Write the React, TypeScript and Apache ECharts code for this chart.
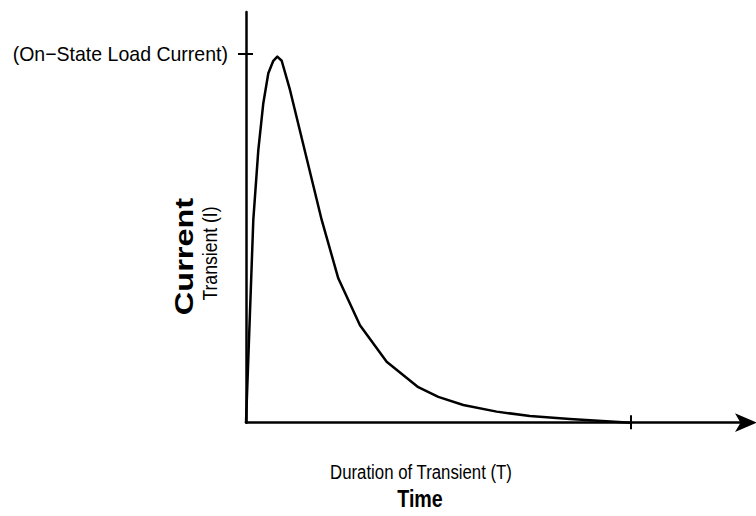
import React, { useEffect, useRef } from "react";
import * as echarts from "echarts";

// Transient current curve (time in arbitrary units, current in % of on-state load current)
const timeValues = [0, 1.9, 3.2, 4.5, 5.8, 7.1, 8.14, 9.28, 11.44, 19.68, 23.99, 29.63, 36.57, 44.79, 49.99, 56.49, 65.17, 73.82, 84.2, 100];
const currentValues = [0, 54.9, 73.8, 86.5, 94.6, 98.0, 99.1, 98.0, 90.1, 54.9, 39.1, 26.4, 16.5, 9.6, 7.0, 4.8, 3.0, 1.8, 1.0, 0];

const xTickValues = [100];
const yTickValues = [100];
const xMax = 130;
const yMax = 111.2;

const peakLabel = "(On\u2212State Load Current)";
const yTitleBold = "Current";
const yTitle = "Transient (I)";
const xTitle = "Duration of Transient (T)";
const xTitleBold = "Time";

const FONT = "'Liberation Sans', Arial, Helvetica, sans-serif";

function textEl(
  text: string,
  x: number,
  y: number,
  size: number,
  opts: { bold?: boolean; align?: string; rotation?: number; scaleX?: number } = {}
) {
  const align = opts.align || "center";
  return {
    type: "text",
    x,
    y,
    rotation: opts.rotation || 0,
    scaleX: opts.scaleX || 1,
    silent: true,
    style: {
      text,
      fontSize: size,
      fontFamily: FONT,
      fontWeight: opts.bold ? "bold" : "normal",
      fill: "#000",
      align,
      textAlign: align,
      verticalAlign: "middle",
      textVerticalAlign: "middle",
    },
  };
}

export default function App() {
  const ref = useRef<HTMLDivElement>(null);

  useEffect(() => {
    if (!ref.current) return;
    const chart = echarts.init(ref.current, undefined, { renderer: "svg" });
    const data = timeValues.map((t, i) => [t, currentValues[i]]);
    const axisLineStyle = { color: "#000", width: 2.5 };

    chart.setOption({
      animation: false,
      backgroundColor: "#fff",
      grid: { left: 246, right: 10, top: 12, bottom: 93.3, containLabel: false },
      xAxis: [
        {
          type: "value",
          min: 0,
          max: xMax,
          position: "bottom",
          axisLine: {
            show: true,
            onZero: false,
            lineStyle: axisLineStyle,
            symbol: ["none", "arrow"],
            symbolSize: [14, 22],
            symbolOffset: [0, 11],
          },
          axisTick: { show: true, customValues: xTickValues, inside: true, length: 7.5, lineStyle: { color: "#000", width: 2 } },
          axisLabel: { show: false },
          splitLine: { show: false },
        },
        {
          type: "value",
          min: 0,
          max: xMax,
          position: "bottom",
          axisLine: { show: false, onZero: false },
          axisTick: { show: true, customValues: xTickValues, inside: false, length: 6.5, lineStyle: { color: "#000", width: 2 } },
          axisLabel: { show: false },
          splitLine: { show: false },
        },
      ],
      yAxis: [
        {
          type: "value",
          min: 0,
          max: yMax,
          position: "left",
          axisLine: { show: true, onZero: false, lineStyle: axisLineStyle },
          axisTick: { show: true, customValues: yTickValues, inside: true, length: 7, lineStyle: { color: "#000", width: 2 } },
          axisLabel: { show: false },
          splitLine: { show: false },
        },
        {
          type: "value",
          min: 0,
          max: yMax,
          position: "left",
          axisLine: { show: false, onZero: false },
          axisTick: { show: true, customValues: yTickValues, inside: false, length: 8, lineStyle: { color: "#000", width: 2 } },
          axisLabel: { show: false },
          splitLine: { show: false },
        },
      ],
      series: [
        {
          type: "line",
          xAxisIndex: 0,
          yAxisIndex: 0,
          data,
          showSymbol: false,
          symbol: "none",
          smooth: false,
          lineStyle: { color: "#000", width: 2.5, join: "round" },
          silent: true,
        },
      ],
      graphic: [
        textEl(peakLabel, 228, 54, 21, { align: "right", scaleX: 0.93 }),
        textEl(yTitleBold, 184, 256.5, 26, { bold: true, rotation: Math.PI / 2, scaleX: 1.25 }),
        textEl(yTitle, 210, 253.5, 20, { rotation: Math.PI / 2, scaleX: 0.88 }),
        textEl(xTitle, 421, 471.5, 21, { scaleX: 0.8 }),
        textEl(xTitleBold, 420, 499, 24, { bold: true, scaleX: 0.82 }),
      ],
    });

    return () => chart.dispose();
  }, []);

  return (
    <div
      ref={ref}
      style={{ position: "fixed", left: 0, top: 0, width: 756, height: 516, background: "#fff" }}
    />
  );
}
